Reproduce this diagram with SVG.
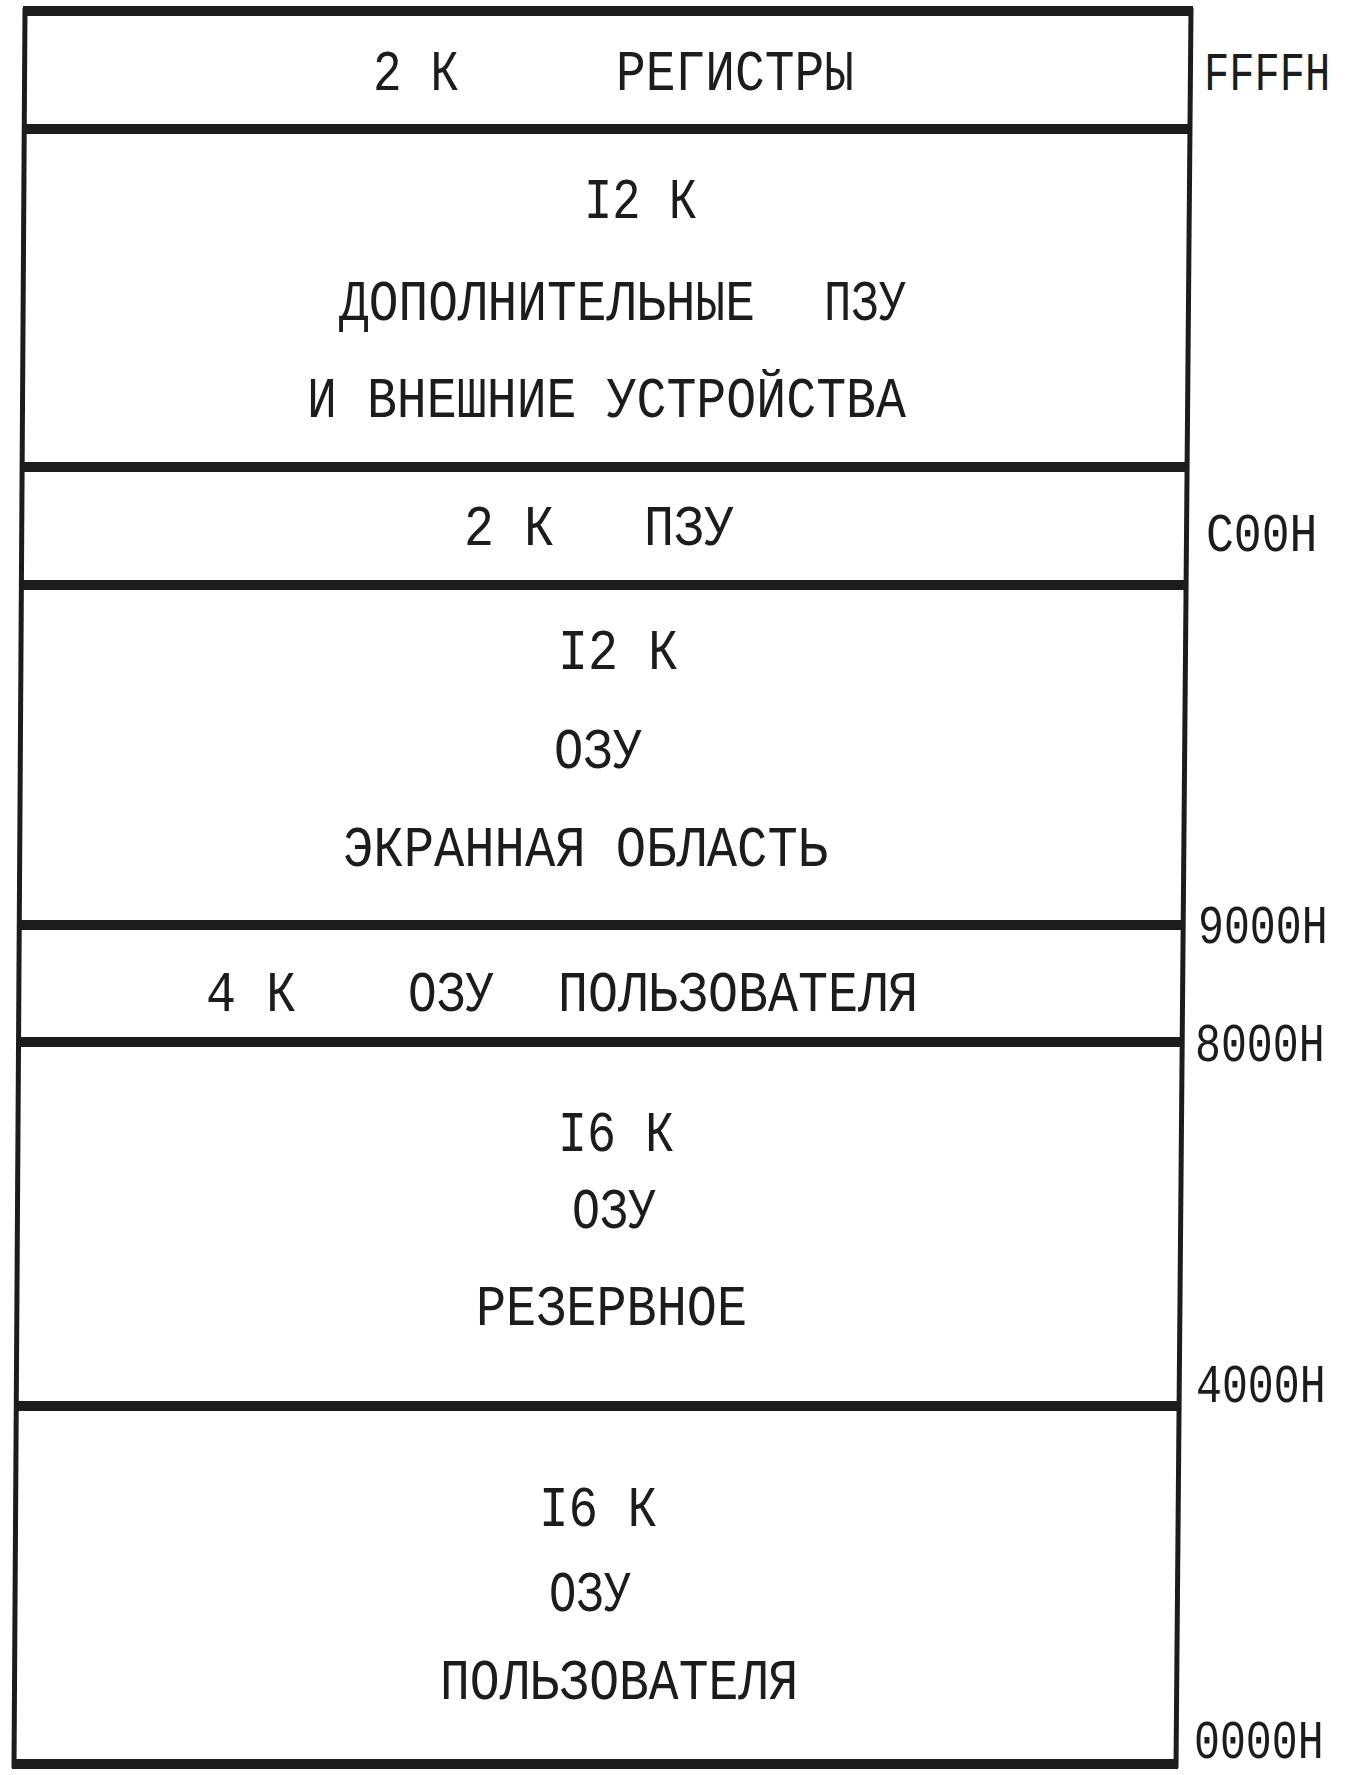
<svg xmlns="http://www.w3.org/2000/svg" width="1346" height="1775" viewBox="0 0 1346 1775">
<style>
.t{font-family:"Liberation Mono","DejaVu Sans Mono",monospace;font-size:58px;fill:#1c1c1c;}
.sep{stroke:#1c1c1c;stroke-width:10;fill:none;}
.side{stroke:#1c1c1c;stroke-width:5;fill:none;}
.addr{font-family:"Liberation Mono","DejaVu Sans Mono",monospace;font-size:54px;fill:#1c1c1c;}
</style>
<rect width="1346" height="1775" fill="#ffffff"/>
<g id="frame">
<line class="side" x1="25" y1="8" x2="14" y2="1768"/>
<line class="side" x1="1191" y1="8" x2="1176" y2="1768"/>
<line class="sep" x1="23" y1="11" x2="1193" y2="11"/>
<line class="sep" x1="12" y1="1764" x2="1178" y2="1764"/>
</g>
<g id="connectors">
<line class="sep" x1="24" y1="129" x2="1190" y2="129"/>
<line class="sep" x1="22" y1="467" x2="1187" y2="467"/>
<line class="sep" x1="21" y1="585" x2="1186" y2="585"/>
<line class="sep" x1="19" y1="925" x2="1183" y2="925"/>
<line class="sep" x1="18" y1="1042" x2="1182" y2="1042"/>
<line class="sep" x1="16" y1="1406" x2="1179" y2="1406"/>
</g>
<g id="node-registers">
<text class="t" x="373" y="90" textLength="86" lengthAdjust="spacingAndGlyphs">2 К</text>
<text class="t" x="616" y="90" textLength="238" lengthAdjust="spacingAndGlyphs">РЕГИСТРЫ</text>
</g>
<g id="node-rom-ext">
<text class="t" x="584" y="218" textLength="113" lengthAdjust="spacingAndGlyphs">I2 К</text>
<text class="t" x="339" y="320" textLength="416" lengthAdjust="spacingAndGlyphs">ДОПОЛНИТЕЛЬНЫЕ</text>
<text class="t" x="824" y="320" textLength="82" lengthAdjust="spacingAndGlyphs">ПЗУ</text>
<text class="t" x="307" y="417" textLength="599" lengthAdjust="spacingAndGlyphs">И ВНЕШНИЕ УСТРОЙСТВА</text>
</g>
<g id="node-rom">
<text class="t" x="464" y="545" textLength="90" lengthAdjust="spacingAndGlyphs">2 К</text>
<text class="t" x="644" y="545" textLength="90" lengthAdjust="spacingAndGlyphs">ПЗУ</text>
</g>
<g id="node-screen">
<text class="t" x="558" y="669" textLength="120" lengthAdjust="spacingAndGlyphs">I2 К</text>
<text class="t" x="554" y="768" textLength="88" lengthAdjust="spacingAndGlyphs">ОЗУ</text>
<text class="t" x="343" y="866" textLength="485" lengthAdjust="spacingAndGlyphs">ЭКРАННАЯ ОБЛАСТЬ</text>
</g>
<g id="node-user4k">
<text class="t" x="206" y="1011" textLength="90" lengthAdjust="spacingAndGlyphs">4 К</text>
<text class="t" x="408" y="1011" textLength="86" lengthAdjust="spacingAndGlyphs">ОЗУ</text>
<text class="t" x="558" y="1011" textLength="360" lengthAdjust="spacingAndGlyphs">ПОЛЬЗОВАТЕЛЯ</text>
</g>
<g id="node-reserve">
<text class="t" x="558" y="1151" textLength="116" lengthAdjust="spacingAndGlyphs">I6 К</text>
<text class="t" x="572" y="1228" textLength="84" lengthAdjust="spacingAndGlyphs">ОЗУ</text>
<text class="t" x="476" y="1325" textLength="271" lengthAdjust="spacingAndGlyphs">РЕЗЕРВНОЕ</text>
</g>
<g id="node-user16k">
<text class="t" x="539" y="1526" textLength="118" lengthAdjust="spacingAndGlyphs">I6 К</text>
<text class="t" x="549" y="1611" textLength="82" lengthAdjust="spacingAndGlyphs">ОЗУ</text>
<text class="t" x="440" y="1699" textLength="358" lengthAdjust="spacingAndGlyphs">ПОЛЬЗОВАТЕЛЯ</text>
</g>
<g id="addresses">
<text class="addr" transform="translate(1204,90) scale(0.78,1)">FFFFH</text>
<text class="addr" transform="translate(1206,551) scale(0.86,1)">C00H</text>
<text class="addr" transform="translate(1198,943) scale(0.8,1)">9000H</text>
<text class="addr" transform="translate(1195,1061) scale(0.8,1)">8000H</text>
<text class="addr" transform="translate(1196,1402) scale(0.8,1)">4000H</text>
<text class="addr" transform="translate(1194,1758) scale(0.8,1)">0000H</text>
</g>
</svg>
